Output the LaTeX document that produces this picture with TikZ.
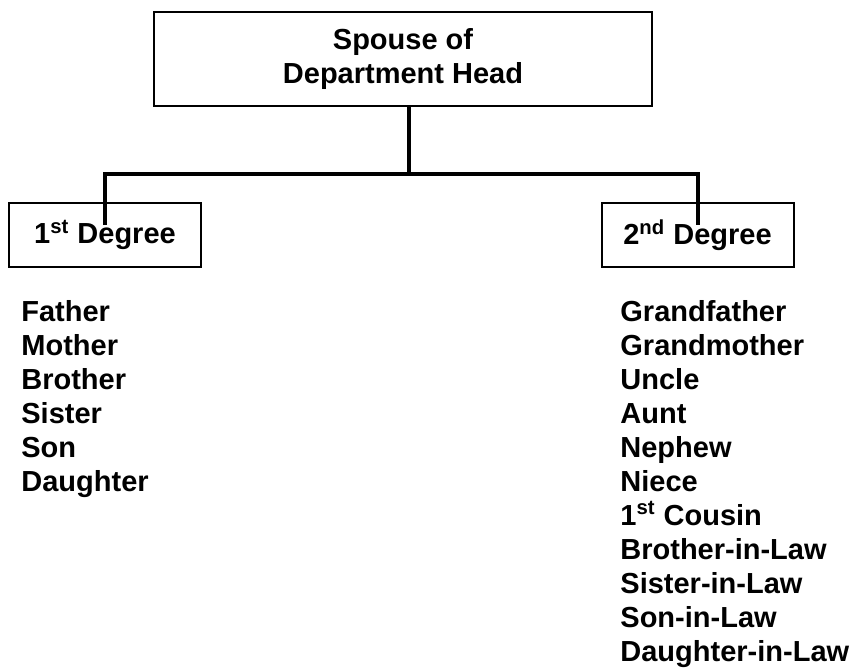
\documentclass[tikz,border=0pt]{standalone}
\usepackage{fontspec}
\setmainfont{Liberation Sans}

\begin{document}
\begin{tikzpicture}[x=0.5pt,y=-0.5pt,
  font=\fontsize{14.5}{17}\selectfont\bfseries,
  headbox/.style={rectangle,draw,line width=1pt,minimum width=249pt,minimum height=47pt,align=center,inner sep=0pt},
  degbox/.style={rectangle,draw,line width=1pt,minimum width=96pt,minimum height=32pt,inner sep=0pt},
  link/.style={line width=2pt},
  kinlist/.style={anchor=north west,align=left,inner sep=0pt}]
\useasboundingbox (0,0) rectangle (855,671);

\path (403,59) node[headbox] (head) {Spouse of\\Department Head};

\path (105,235) node[degbox] (first) {1\textsuperscript{st} Degree};
\path (697.5,235) node[degbox] (second) {2\textsuperscript{nd} Degree};

% the branch below the head box
\coordinate (jn) at (409,174);
\draw[link] (head.south -| jn) -- (jn);
\draw[link] ([yshift=5pt]first.center) |- (jn) -| ([yshift=5pt]second.center);

\path (21,300) node[kinlist] (firstlist) {Father\\Mother\\Brother\\Sister\\Son\\Daughter};
\path (620,300) node[kinlist] (secondlist) {Grandfather\\Grandmother\\Uncle\\Aunt\\Nephew\\Niece\\1\textsuperscript{st} Cousin\\Brother-in-Law\\Sister-in-Law\\Son-in-Law\\Daughter-in-Law};
\end{tikzpicture}
\end{document}
